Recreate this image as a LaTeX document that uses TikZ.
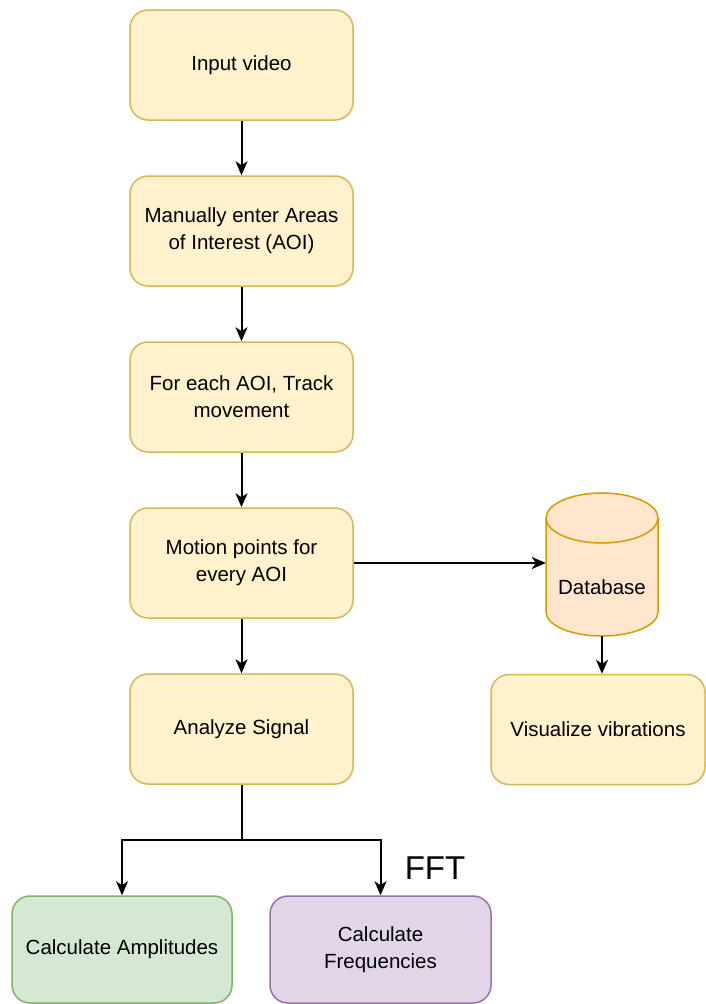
\documentclass[tikz,border=0pt]{standalone}
\usepackage{fontspec}
\setmainfont{Liberation Sans}
\usetikzlibrary{arrows.meta}
\definecolor{yfill}{HTML}{FFF2CC}
\definecolor{ystroke}{HTML}{D6B656}
\definecolor{ofill}{HTML}{FFE6CC}
\definecolor{ostroke}{HTML}{D79B00}
\definecolor{gfill}{HTML}{D5E8D4}
\definecolor{gstroke}{HTML}{82B366}
\definecolor{pfill}{HTML}{E1D5E7}
\definecolor{pstroke}{HTML}{9673A6}
\begin{document}
\begin{tikzpicture}[x=1pt,y=-1pt,
  box/.style={draw=ystroke, fill=yfill, rounded corners=18pt, line width=1.5pt,
    minimum width=223pt, minimum height=110pt, inner sep=0pt, align=center,
    font=\fontsize{20.5}{27}\selectfont},
  conn/.style={line width=2pt, -{Stealth[length=14pt,width=12pt,inset=4pt]}},
  plain/.style={line width=2pt}]
\useasboundingbox (0,0) rectangle (706,1004);
\fill[white] (0,0) rectangle (706,1004);

\node[box] (input) at (241.5,65) {Input video};
\node[box] (aoi) at (241.5,231) {Manually enter Areas\\of Interest (AOI)};
\node[box] (track) at (241.5,397) {For each AOI, Track\\movement};
\node[box] (motion) at (241.5,563) {Motion points for\\every AOI};
\node[box] (analyze) at (241.5,729) {Analyze Signal};
\node[box, minimum width=214pt] (vis) at (598,729.5) {Visualize vibrations};
\node[box, draw=gstroke, fill=gfill, minimum width=220pt, minimum height=107pt] (amp) at (122,949.5) {Calculate Amplitudes};
\node[box, draw=pstroke, fill=pfill, minimum width=221pt, minimum height=107pt] (freq) at (380.5,949.5) {Calculate\\Frequencies};

% database cylinder
\filldraw[fill=ofill, draw=ostroke, line width=1.5pt]
  (546,518) -- (546,612) arc[start angle=180, end angle=0, x radius=56, y radius=24]
  -- (658,518) arc[start angle=0, end angle=-180, x radius=56, y radius=25] -- cycle;
\draw[ostroke, line width=1.5pt] (546,518) arc[start angle=180, end angle=0, x radius=56, y radius=25];
\node[inner sep=0pt, minimum width=112pt, minimum height=143pt] (db) at (602,564.5) {};
\node[font=\fontsize{20.5}{27}\selectfont] (dblabel) at (602,587) {Database};

\node[font=\fontsize{33}{40}\selectfont, inner sep=0pt] (fft) at (435,868) {FFT};

\draw[conn] (input) -- (aoi);
\draw[conn] (aoi) -- (track);
\draw[conn] (track) -- (motion);
\draw[conn] (motion) -- (analyze);
\draw[conn] (motion.east) -- (motion.east -| db.west);
\draw[conn] (db.south) -- (vis.north -| db.south);
\coordinate (split) at (241.5,840);
\draw[plain] (analyze.south) -- (split);
\draw[conn] (split) -| (amp.north);
\draw[conn] (split) -| (freq.north);
\end{tikzpicture}
\end{document}
